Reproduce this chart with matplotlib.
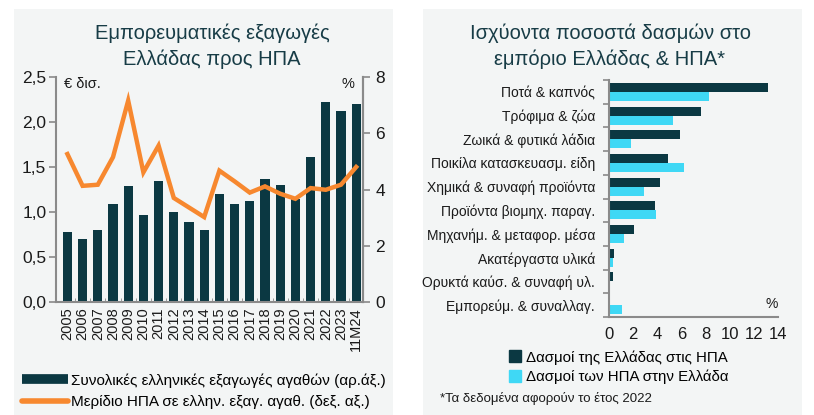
import numpy as np
import matplotlib.pyplot as plt
from matplotlib.patches import Rectangle
from matplotlib.lines import Line2D
from matplotlib.ticker import FuncFormatter

plt.rcParams['font.family'] = ['Liberation Sans', 'DejaVu Sans']

years = ['2005', '2006', '2007', '2008', '2009', '2010', '2011', '2012', '2013', '2014',
         '2015', '2016', '2017', '2018', '2019', '2020', '2021', '2022', '2023', '11M24']
exports = [0.78, 0.70, 0.80, 1.09, 1.29, 0.97, 1.34, 1.00, 0.89, 0.80,
           1.20, 1.09, 1.12, 1.37, 1.30, 1.14, 1.61, 2.22, 2.12, 2.20]
us_share = [5.26, 4.13, 4.17, 5.15, 7.16, 4.61, 5.56, 3.70, 3.36, 3.02,
            4.67, 4.29, 3.89, 4.11, 3.85, 3.67, 4.05, 3.99, 4.17, 4.80]

categories = ['Ποτά & καπνός', 'Τρόφιμα & ζώα', 'Ζωικά & φυτικά λάδια',
              'Ποικίλα κατασκευασμ. είδη', 'Χημικά & συναφή προϊόντα',
              'Προϊόντα βιομηχ. παραγ.', 'Μηχανήμ. & μεταφορ. μέσα',
              'Ακατέργαστα υλικά', 'Ορυκτά καύσ. & συναφή υλ.',
              'Εμπορεύμ. & συναλλαγ.']
gr_tariffs = [13.2, 7.6, 5.9, 4.9, 4.2, 3.8, 2.1, 0.45, 0.3, 0.0]
us_tariffs = [8.3, 5.3, 1.8, 6.2, 2.9, 3.9, 1.25, 0.35, 0.0, 1.1]

DARK = '#0b3842'
ORANGE = '#f7882f'
CYAN = '#3fd8f5'
PANEL = '#f3f5f5'
GRAY = '#8a8a8a'
TXT = '#1a1a1a'
W, H = 814, 415

fig = plt.figure(figsize=(8.14, 4.15), dpi=100)
fig.patch.set_facecolor('white')

def px(x, y):
    return x / W, 1 - y / H

# panel backgrounds
for x0, x1 in [(14, 393), (423, 802)]:
    fig.patches.append(Rectangle((x0 / W, 0), (x1 - x0) / W, 1 - 9 / H,
                                 transform=fig.transFigure, facecolor=PANEL,
                                 edgecolor='none', zorder=-10))

# ---------- left chart ----------
ax = fig.add_axes([56 / W, 1 - 302 / H, (363 - 56) / W, (302 - 77) / H])
ax.set_facecolor('none')
x = np.arange(len(years))
ax.bar(x, exports, width=0.6, color=DARK, zorder=2)
ax.set_xlim(-0.75, len(years) - 0.55)
ax.set_ylim(0, 2.5)
ax.set_yticks(np.arange(0, 2.51, 0.5))
ax.yaxis.set_major_formatter(FuncFormatter(lambda v, p: f'{v:.1f}'.replace('.', ',')))
ax.set_xticks(x)
ax.set_xticklabels(years, rotation=90, fontsize=10.5, color=TXT)
ax.set_xticks(x[:-1] + 0.5, minor=True)
ax.tick_params(axis='x', which='major', length=0, pad=4)
ax.tick_params(axis='x', which='minor', length=3, color=GRAY, direction='in')
ax.tick_params(axis='y', labelsize=12.5, colors=TXT, length=5, color=GRAY, width=1.2, pad=2)
ax.spines['top'].set_visible(False)
for s in ['left', 'right', 'bottom']:
    ax.spines[s].set_color(GRAY)
    ax.spines[s].set_linewidth(1.5)

ax2 = ax.twinx()
ax2.plot(x, us_share, color=ORANGE, lw=3.2, solid_joinstyle='miter', zorder=3)
ax2.set_ylim(0, 8)
ax2.set_yticks([0, 2, 4, 6, 8])
ax2.tick_params(axis='y', labelsize=12.5, colors=TXT, length=5, color=GRAY, width=1.2, pad=4)
for s in ['top', 'left', 'bottom']:
    ax2.spines[s].set_visible(False)
ax2.spines['right'].set_color(GRAY)
ax2.spines['right'].set_linewidth(1.5)

fig.text(*px(64, 84), '€ δισ.', fontsize=10.5, color=TXT, va='center')
fig.text(*px(341, 84), '%', fontsize=10.5, color=TXT, va='center')
fig.text(*px(212, 46), 'Εμπορευματικές εξαγωγές\nΕλλάδας προς ΗΠΑ', fontsize=14.5,
         color='#173c46', ha='center', va='center', linespacing=1.4)

h1 = Line2D([], [], color=DARK, lw=7, solid_capstyle='butt')
h2 = Line2D([], [], color=ORANGE, lw=4, solid_capstyle='round')
fig.legend([h1, h2], ['Συνολικές ελληνικές εξαγωγές αγαθών (αρ.άξ.)',
                      'Μερίδιο ΗΠΑ σε ελλην. εξαγ. αγαθ. (δεξ. αξ.)'],
           loc='upper left', bbox_to_anchor=px(22, 373), frameon=False,
           fontsize=11, handlelength=3.0, handletextpad=0.2, labelspacing=0.5,
           borderaxespad=0, borderpad=0)

# ---------- right chart ----------
bx = fig.add_axes([609 / W, 1 - 317 / H, (778 - 609) / W, (317 - 80) / H])
bx.set_facecolor('none')
y = np.arange(len(categories))
bh = 0.38
bx.barh(y - bh / 2, gr_tariffs, height=bh, color=DARK, zorder=2)
bx.barh(y + bh / 2, us_tariffs, height=bh, color=CYAN, zorder=2)
bx.set_ylim(len(categories) - 0.5, -0.5)
bx.set_xlim(0, 14)
bx.set_xticks(np.arange(0, 15, 2))
bx.set_yticks(y)
bx.set_yticklabels(categories, fontsize=10, color=TXT)
bx.set_yticks(np.arange(-0.5, len(categories), 1), minor=True)
bx.tick_params(axis='y', which='major', length=0, pad=10)
bx.tick_params(axis='y', which='minor', length=4, color=GRAY, width=1.2)
bx.tick_params(axis='x', length=0, labelsize=12, colors=TXT, pad=7)
for s in ['top', 'right']:
    bx.spines[s].set_visible(False)
for s in ['left', 'bottom']:
    bx.spines[s].set_color(GRAY)
    bx.spines[s].set_linewidth(1.5)

fig.text(*px(772, 304), '%', fontsize=10, color=TXT, ha='center', va='center')
fig.text(*px(610, 46), 'Ισχύοντα ποσοστά δασμών στο\nεμπόριο Ελλάδας & ΗΠΑ*', fontsize=14.5,
         color='#173c46', ha='center', va='center', linespacing=1.4)

m1 = Line2D([], [], color=DARK, marker='s', ls='none', markersize=8)
m2 = Line2D([], [], color=CYAN, marker='s', ls='none', markersize=8)
fig.legend([m1, m2], ['Δασμοί της Ελλάδας στις ΗΠΑ', 'Δασμοί των ΗΠΑ στην Ελλάδα'],
           loc='upper left', bbox_to_anchor=px(507, 350), frameon=False,
           fontsize=10.8, handlelength=1.0, handletextpad=0.3, labelspacing=0.35,
           borderaxespad=0, borderpad=0)
fig.text(*px(440, 398), '*Τα δεδομένα αφορούν το έτος 2022', fontsize=9.5,
         color=TXT, va='center')

fig.savefig('out.png', dpi=100, facecolor='white')
